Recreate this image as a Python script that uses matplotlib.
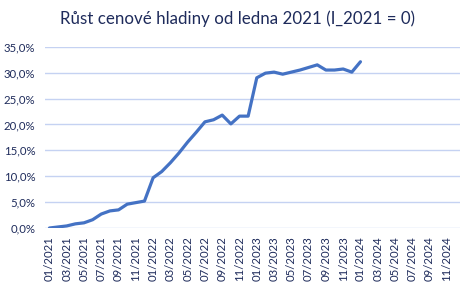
import matplotlib
matplotlib.use("Agg")
import matplotlib.pyplot as plt
from matplotlib.ticker import FuncFormatter

plt.rcParams['font.family'] = ['Lato', 'DejaVu Sans']

# months 01/2021 .. 12/2024 (category axis)
months = ["%02d/%d" % (m, y) for y in range(2021, 2025) for m in range(1, 13)]

# cumulative price level growth since Jan 2021, in %
growth = [0.0, 0.2, 0.4, 0.8, 1.0, 1.6, 2.7, 3.3, 3.5, 4.6, 4.9, 5.2,
          9.7, 10.9, 12.6, 14.5, 16.6, 18.5, 20.5, 20.9, 21.8, 20.1, 21.6, 21.6,
          29.0, 29.9, 30.1, 29.7, 30.1, 30.5, 31.0, 31.5, 30.5, 30.5, 30.7, 30.1,
          32.1]

text_col = "#1e2b5b"
grid_col = "#c5d2f2"
line_col = "#4472c4"

fig = plt.figure(figsize=(4.75, 2.85), dpi=100)
ax = fig.add_axes([0.095, 0.2, 0.873, 0.636])

x = list(range(len(growth)))
ax.plot(x, growth, color=line_col, lw=2.3, solid_joinstyle='round', solid_capstyle='round', zorder=3)

ax.set_xlim(-0.5, len(months) - 0.5)
ax.set_ylim(0, 35)
ax.set_yticks(range(0, 36, 5))
ax.yaxis.set_major_formatter(FuncFormatter(lambda v, p: ("%.1f%%" % v).replace(".", ",")))
ax.set_xticks(range(0, len(months), 2))
ax.set_xticklabels(months[::2], rotation=90)

ax.grid(axis='y', color=grid_col, lw=1)
ax.set_axisbelow(True)
for s in ax.spines.values():
    s.set_visible(False)
ax.tick_params(axis='both', length=0, labelsize=8.2, colors=text_col)
ax.tick_params(axis='x', pad=6)
ax.tick_params(axis='y', pad=7)

fig.text(0.5, 0.933, "Růst cenové hladiny od ledna 2021 (I_2021 = 0)",
         ha='center', va='center', fontsize=12.2, color=text_col)

fig.savefig("out.png", dpi=100)
